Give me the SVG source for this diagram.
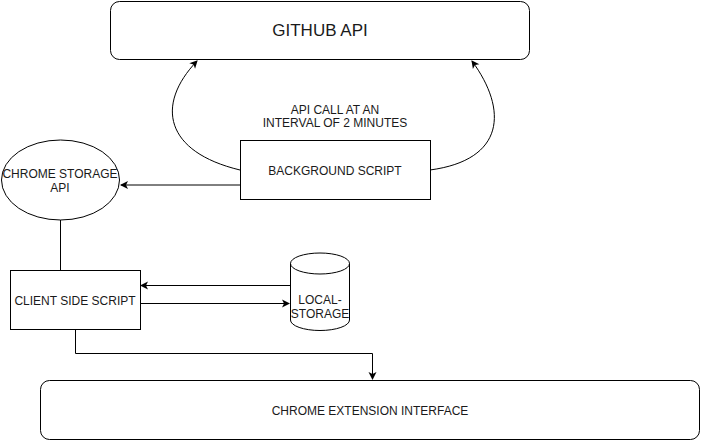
<svg xmlns="http://www.w3.org/2000/svg" width="701" height="441" viewBox="0 0 701 441">
<defs>
<marker id="arr" markerWidth="10" markerHeight="10" refX="8" refY="5" orient="auto" markerUnits="userSpaceOnUse">
<path d="M1,1 L9,5 L1,9 L3,5 Z" fill="#000"/>
</marker>
<style>
.shape{fill:#fff;stroke:#000;stroke-width:1}
.conn{fill:none;stroke:#000;stroke-width:1}
text{font-family:"Liberation Sans",Arial,sans-serif;font-size:12px;fill:#1a1a1a;text-anchor:middle}
</style>
</defs>
<rect width="701" height="441" fill="#fff"/>
<g id="connectors">
<path class="conn" d="M240,170 C165,152 155,105 197,61" marker-end="url(#arr)"/>
<path class="conn" d="M430,170 C505,160 508,110 472,61" marker-end="url(#arr)"/>
<path class="conn" d="M240,185 L121,185" marker-end="url(#arr)"/>
<path class="conn" d="M60.5,220 L60.5,270"/>
<path class="conn" d="M290,285.5 L141,285.5" marker-end="url(#arr)"/>
<path class="conn" d="M140,303.5 L289,303.5" marker-end="url(#arr)"/>
<path class="conn" d="M75.5,330 L75.5,353.5 L372.5,353.5 L372.5,379" marker-end="url(#arr)"/>
<text x="335" y="114">API CALL AT AN</text>
<text x="335" y="127">INTERVAL OF 2 MINUTES</text>
</g>
<g id="github-api">
<rect class="shape" x="110.5" y="1.5" width="419" height="58" rx="9"/>
<text x="320" y="36" style="font-size:17px">GITHUB API</text>
</g>
<g id="background-script">
<rect class="shape" x="240.5" y="140.5" width="190" height="59"/>
<text x="335" y="175">BACKGROUND SCRIPT</text>
</g>
<g id="chrome-storage-api">
<ellipse class="shape" cx="60.5" cy="180" rx="59" ry="40"/>
<text x="60" y="178">CHROME STORAGE</text>
<text x="60" y="192">API</text>
</g>
<g id="client-side-script">
<rect class="shape" x="10.5" y="270.5" width="130" height="59"/>
<text x="75" y="305">CLIENT SIDE SCRIPT</text>
</g>
<g id="local-storage">
<path class="shape" d="M290.5,263.5 A29.5,10.5 0 0 1 349.5,263.5 L349.5,320 A29.5,10.5 0 0 1 290.5,320 Z"/>
<path class="conn" d="M290.5,263.5 A29.5,10.5 0 0 0 349.5,263.5"/>
<text x="320" y="304">LOCAL-</text>
<text x="320" y="318">STORAGE</text>
</g>
<g id="chrome-extension-interface">
<rect class="shape" x="40.5" y="380.5" width="659" height="59" rx="9"/>
<text x="370" y="415">CHROME EXTENSION INTERFACE</text>
</g>
</svg>
